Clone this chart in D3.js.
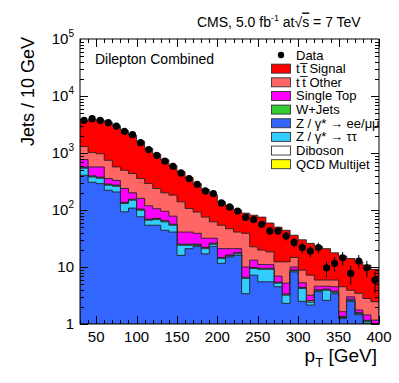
<!DOCTYPE html>
<html>
<head>
<meta charset="utf-8">
<script src="https://cdn.jsdelivr.net/npm/d3@7"></script>
<style>
  body { margin: 0; background: #fff; }
  svg { display: block; font-family: "Liberation Sans", Arial, sans-serif; }
</style>
</head>
<body>
<div id="chart"></div>
<script>
// bin low edges, 10 GeV bins from 30 to 400
var binEdges = d3.range(30, 400, 10);

var data = [3740, 4000, 3740, 3410, 2970, 2400, 2100, 1520, 1150, 912, 724, 585, 447, 356, 283, 216, 194,
	133, 113, 96, 74, 68, 56, 43, 43, 35, 27, 22, 19, 22, 9.7, 11.6, 14.5, 7.7, 12.7, 9.7, 5.9];

var qcd = d3.range(37).map(function() { return 0; });
var zee = [407, 307, 290, 222, 207, 93, 108, 76, 54, 54, 44, 41, 16, 21, 23, 17, 23, 11.6, 15, 16,
	3.4, 7.2, 5.5, 5.5, 4.5, 2.3, 8.2, 2.5, 2.15, 3.7, 2.6, 3.4, 1.25, 2.5, 1.45, 1.03, 0.5];
var ztt = [133, 73, 70, 50, 54, 37, 40, 23, 12, 14, 18, 13, 8, 3, 1, 4, 2, 2.4, 0.5, 1,
	2.9, 2.2, 3.6, 3.6, 0.7, 0.9, 0.3, 1.7, 0.25, 0.1, 1.3, 0.2, 0.05, 0.1, 0.05, 0.07, 0.05];
var diboson = [13, 9, 9, 7, 6, 3.2, 3.6, 2.5, 1.7, 1.7, 1.5, 1.3, 0.6, 0.6, 0.6, 0.5, 0.6, 0.35, 0.4, 0.4,
	0.16, 0.23, 0.22, 0.22, 0.13, 0.08, 0.2, 0.1, 0.12, 0.1, 0.1, 0.09, 0.03, 0.06, 0.04, 0.03, 0.01];
var wjets = [12, 8, 8, 6, 6, 3, 3.4, 2.3, 1.5, 1.6, 1.4, 1.2, 0.6, 0.6, 0.5, 0.5, 0.6, 0.3, 0.35, 0.4,
	0.15, 0.2, 0.2, 0.2, 0.1, 0.08, 0.2, 0.1, 0.06, 0.1, 0.1, 0.08, 0.03, 0.06, 0.04, 0.03, 0.01];
var singleTop = [201, 172, 192, 71, 57, 102, 45, 56, 49, 34, 30, 21.5, 15.8, 15.8, 13.9, 10, 5.8, 6.35, 4.75, 3.2,
	3.4, 3.37, 1.5, 1.5, 1.47, 1.84, 1.1, 0.9, 0.62, 0.6, 0.5, 0.73, 0.28, 0.28, 0.18, 0.28, 0.6];
var ttOther = [534, 447, 401, 389, 239, 260, 236, 197, 173, 133, 105, 104, 98, 65, 53, 43, 30, 33, 26, 20,
	29, 9.4, 8.8, 7.4, 5.4, 7.1, 4.7, 3.5, 4.0, 1.3, 1.3, 1.4, 2.86, 0.9, 1.69, 1.36, 1.29];
var ttSignal = [2330, 2884, 2830, 2705, 2431, 1952, 1614, 1243, 909, 712, 560, 418, 331, 264, 198, 155, 123, 86, 71, 59,
	49, 58.4, 55.2, 40.6, 37.7, 31.7, 21.3, 21.2, 18.8, 17.1, 15.1, 11.8, 11.0, 10.2, 8.85, 8.0, 6.64];

// stack order, bottom first
var seriesKeys = ["qcd", "zee", "ztt", "diboson", "wjets", "singleTop", "ttOther", "ttSignal"];
var seriesVals = [qcd, zee, ztt, diboson, wjets, singleTop, ttOther, ttSignal];
var seriesColors = ["#ffff00", "#3366ff", "#33ccff", "#ffffff", "#33cc33", "#ff00ff", "#ff6666", "#ff0000"];

var xTicks = [50, 100, 150, 200, 250, 300, 350, 400];
var yTicks = [1, 10, 100, 1000, 10000, 100000];

var legendLabels = ["Data", "t\u2009t\u0305 Signal", "t\u2009t\u0305 Other", "Single Top", "W+Jets",
	"Z / \u03b3* \u2192 ee/\u03bc\u03bc", "Z / \u03b3* \u2192 \u03c4\u03c4", "Diboson", "QCD Multijet"];
var legendColors = [null, "#ff0000", "#ff6666", "#ff00ff", "#33cc33", "#3366ff", "#33ccff", "#ffffff", "#ffff00"];

var W = 399, H = 383;
var pl = 80, pr = 379, pt = 39, pb = 324;

var svg = d3.select("#chart").append("svg")
	.attr("width", W)
	.attr("height", H);

var x = d3.scaleLinear().domain([30, 400]).range([pl, pr]);
var y = d3.scaleLog().domain([1, 1e5]).range([pb, pt]).clamp(true);

svg.append("clipPath").attr("id", "plotclip")
	.append("rect").attr("x", pl).attr("y", pt).attr("width", pr - pl).attr("height", pb - pt);

// build table for stacking
var table = binEdges.map(function(e, i) {
	var row = { edge: e };
	seriesKeys.forEach(function(k, j) { row[k] = seriesVals[j][i]; });
	return row;
});
var stacked = d3.stack().keys(seriesKeys)(table);

var area = d3.area()
	.curve(d3.curveStepAfter)
	.x(function(d) { return x(d.edge); })
	.y0(pb + 2)
	.y1(function(d) { return y(Math.max(d.top, 0.5)); });

var hists = svg.append("g").attr("clip-path", "url(#plotclip)");

// draw from the top layer down, like a ROOT stack
for (var j = stacked.length - 1; j >= 0; j--) {
	var pts = stacked[j].map(function(d, i) { return { edge: binEdges[i], top: d[1] }; });
	pts.push({ edge: 400, top: pts[pts.length - 1].top });
	hists.append("path")
		.attr("d", area(pts))
		.attr("fill", seriesColors[j])
		.attr("stroke", "#222")
		.attr("stroke-width", 0.9);
}

// data points with poisson errors
var dots = svg.append("g").attr("clip-path", "url(#plotclip)");
data.forEach(function(v, i) {
	var cx = x(binEdges[i] + 5);
	var err = Math.sqrt(v);
	dots.append("line")
		.attr("x1", cx).attr("x2", cx)
		.attr("y1", y(v + err)).attr("y2", y(Math.max(v - err, 0.5)))
		.attr("stroke", "#000").attr("stroke-width", 1);
	dots.append("circle")
		.attr("cx", cx).attr("cy", y(v)).attr("r", 3.6)
		.attr("fill", "#000");
});

// frame
svg.append("rect")
	.attr("x", pl).attr("y", pt)
	.attr("width", pr - pl).attr("height", pb - pt)
	.attr("fill", "none").attr("stroke", "#000").attr("stroke-width", 1);

// ticks, inward on all four sides
var tk = svg.append("g").attr("stroke", "#000").attr("stroke-width", 1);
d3.range(30, 401, 10).forEach(function(v) {
	var len = (v % 50 === 0) ? 8 : 4;
	var px = Math.round(x(v)) + 0.5;
	tk.append("line").attr("x1", px).attr("x2", px).attr("y1", pb).attr("y2", pb - len);
	tk.append("line").attr("x1", px).attr("x2", px).attr("y1", pt).attr("y2", pt + len);
});
for (var p = 0; p < 5; p++) {
	for (var m = 1; m < 10; m++) {
		var v = m * Math.pow(10, p);
		var len = (m === 1) ? 8 : 4;
		var py = Math.round(y(v)) + 0.5;
		tk.append("line").attr("x1", pl).attr("x2", pl + len).attr("y1", py).attr("y2", py);
		tk.append("line").attr("x1", pr).attr("x2", pr - len).attr("y1", py).attr("y2", py);
	}
}

// tick labels
svg.append("g").selectAll("text").data(xTicks).enter().append("text")
	.attr("x", function(d) { return x(d); })
	.attr("y", 342)
	.attr("text-anchor", "middle")
	.attr("font-size", 15)
	.text(function(d) { return d; });

var yl = svg.append("g").selectAll("text").data(yTicks).enter().append("text")
	.attr("x", 74)
	.attr("y", function(d) { return y(d) + 5; })
	.attr("text-anchor", "end")
	.attr("font-size", 15);
yl.each(function(d) {
	var t = d3.select(this);
	var e = Math.round(Math.log10(d));
	if (e === 0) t.text("1");
	else if (e === 1) t.text("10");
	else {
		t.append("tspan").text("10");
		t.append("tspan").attr("font-size", 10).attr("dy", -7).text(e);
	}
});

// axis titles
svg.append("text")
	.attr("transform", "translate(34," + (pt - 2) + ") rotate(-90)")
	.attr("text-anchor", "end")
	.attr("font-size", 18)
	.text("Jets / 10 GeV");

var xt = svg.append("text")
	.attr("x", 377).attr("y", 362)
	.attr("text-anchor", "end")
	.attr("font-size", 19);
xt.append("tspan").text("p");
xt.append("tspan").attr("font-size", 13).attr("dy", 5).text("T");
xt.append("tspan").attr("dy", -5).text(" [GeV]");

// header
var hdr = svg.append("text").attr("x", 197).attr("y", 26.5).attr("font-size", 14);
hdr.append("tspan").text("CMS, 5.0 fb");
hdr.append("tspan").attr("font-size", 9).attr("dy", -6).text("-1");
hdr.append("tspan").attr("dy", 6).text(" at\u221a");
hdr.append("tspan").attr("text-decoration", "overline").text("s");
hdr.append("tspan").text(" = 7 TeV");

svg.append("text")
	.attr("x", 95).attr("y", 64)
	.attr("font-size", 14)
	.text("Dilepton Combined");

// legend
var lg = svg.append("g");
legendLabels.forEach(function(lab, i) {
	var cy = 55 + i * 13.65;
	if (i === 0) {
		lg.append("circle").attr("cx", 281).attr("cy", cy).attr("r", 3.2).attr("fill", "#000");
	} else {
		lg.append("rect")
			.attr("x", 271.5).attr("y", cy - 4.5)
			.attr("width", 19).attr("height", 9)
			.attr("fill", legendColors[i])
			.attr("stroke", "#333").attr("stroke-width", 0.9);
	}
	lg.append("text")
		.attr("x", 296).attr("y", cy + 4.5)
		.attr("font-size", 13)
		.text(lab);
});
</script>
</body>
</html>
